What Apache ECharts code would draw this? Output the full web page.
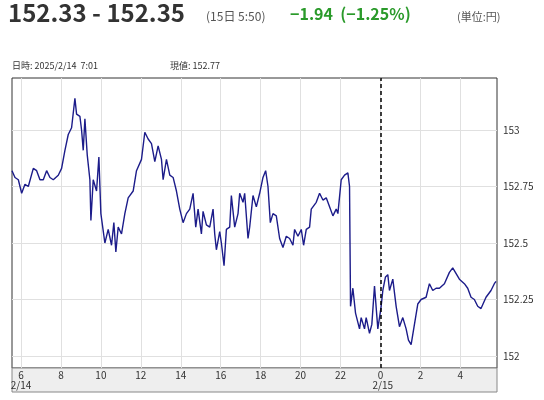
<!DOCTYPE html>
<html>
<head>
<meta charset="utf-8">
<script src="https://cdn.jsdelivr.net/npm/echarts@6/dist/echarts.min.js"></script>
<style>
body { margin: 0; background: #fff; }
#chart { width: 544px; height: 400px; }
</style>
</head>
<body>
<div id="chart"></div>
<script>
// minutes since 2025/2/14 00:00
var minutes = [
	333, 342, 352, 362, 372, 382, 397, 407, 417, 427, 437, 447, 457, 472, 482, 492,
	502, 512, 522, 527, 537, 542, 547, 552, 559, 567, 570, 577, 587, 594, 600, 612,
	622, 632, 639, 645, 652, 662, 672, 682, 697, 707, 722, 732, 742, 752, 762, 772,
	782, 787, 797, 807, 817, 827, 837, 847, 857, 867,
	877, 885, 892, 902, 907, 917, 927, 937, 942, 947, 957, 962, 970, 977, 987, 992,
	1002, 1012, 1017, 1027, 1032, 1042, 1047, 1057, 1067, 1077, 1087, 1095, 1102, 1109, 1117, 1127,
	1137, 1147, 1157, 1167, 1177, 1182, 1192, 1202, 1209, 1217, 1227, 1232, 1247, 1257, 1267, 1277,
	1287, 1297, 1307, 1312, 1322, 1332, 1342, 1347, 1350, 1357, 1365, 1377,
	1382, 1392, 1397, 1407, 1414, 1422, 1432, 1442, 1447, 1455, 1462, 1467, 1477, 1487, 1497, 1507,
	1517, 1524, 1532, 1542, 1552, 1562, 1577, 1587, 1597, 1607, 1617, 1632, 1647, 1657, 1677, 1692,
	1702, 1712, 1722, 1732, 1742, 1757, 1772, 1782, 1787
];
var prices = [
	152.82, 152.79, 152.78, 152.72, 152.76, 152.75, 152.83, 152.82, 152.78, 152.78, 152.82, 152.79, 152.78, 152.80, 152.83, 152.91,
	152.98, 153.01, 153.14, 153.07, 153.06, 153.00, 152.91, 153.05, 152.89, 152.78, 152.60, 152.78, 152.73, 152.88, 152.63, 152.50,
	152.56, 152.49, 152.59, 152.46, 152.57, 152.54, 152.63, 152.70, 152.73, 152.82, 152.87, 152.99, 152.96, 152.94, 152.86, 152.93,
	152.87, 152.78, 152.87, 152.80, 152.79, 152.73, 152.65, 152.59, 152.63, 152.65,
	152.72, 152.57, 152.65, 152.54, 152.64, 152.58, 152.57, 152.65, 152.54, 152.47, 152.55, 152.50, 152.40, 152.56, 152.57, 152.71,
	152.57, 152.63, 152.72, 152.68, 152.72, 152.52, 152.57, 152.71, 152.66, 152.72, 152.79, 152.82, 152.75, 152.59, 152.63, 152.62,
	152.52, 152.48, 152.53, 152.52, 152.49, 152.56, 152.53, 152.56, 152.49, 152.56, 152.57, 152.65, 152.68, 152.72, 152.69, 152.70,
	152.66, 152.62, 152.65, 152.63, 152.78, 152.80, 152.81, 152.75, 152.22, 152.30, 152.19, 152.12,
	152.17, 152.12, 152.17, 152.10, 152.14, 152.31, 152.12, 152.22, 152.29, 152.35, 152.36, 152.29, 152.34, 152.22, 152.13, 152.17,
	152.12, 152.07, 152.05, 152.14, 152.23, 152.25, 152.26, 152.32, 152.29, 152.30, 152.30, 152.32, 152.37, 152.39, 152.34, 152.32,
	152.30, 152.26, 152.25, 152.22, 152.21, 152.26, 152.29, 152.32, 152.33
];
var hourTicks = [360, 480, 600, 720, 840, 960, 1080, 1200, 1320, 1440, 1560, 1680];
var priceTicks = [152, 152.25, 152.5, 152.75, 153];

var seriesData = [];
for (var i = 0; i < minutes.length; i++) {
	seriesData.push([minutes[i], prices[i]]);
}

var chart = echarts.init(document.getElementById('chart'));
var font = '"Noto Sans CJK JP", "Noto Sans", sans-serif';

chart.setOption({
	animation : false,
	textStyle : { fontFamily : font },
	graphic : [ {
		type : 'rect', z : 0,
		shape : { x : 12, y : 368, width : 485, height : 24 },
		style : { fill : '#eeeeee', stroke : '#888', lineWidth : 1 }
	}, {
		type : 'text', left : 8, top : 1,
		style : { text : '152.33 - 152.35', font : 'bold 24px ' + font, fill : '#333' }
	}, {
		type : 'text', left : 206, top : 10,
		style : { text : '(15日 5:50)', font : '12px ' + font, fill : '#555' }
	}, {
		type : 'text', left : 290, top : 6,
		style : { text : '−1.94  (−1.25%)', font : 'bold 16px ' + font, fill : '#2a9a2a' }
	}, {
		type : 'text', left : 457, top : 11,
		style : { text : '(単位:円)', font : '11px ' + font, fill : '#555' }
	}, {
		type : 'text', left : 12, top : 61,
		style : { text : '日時: 2025/2/14  7:01', font : '9px ' + font, fill : '#333' }
	}, {
		type : 'text', left : 170, top : 61,
		style : { text : '現値: 152.77', font : '9px ' + font, fill : '#333' }
	} ],
	grid : {
		left : 12, right : 47, top : 78, bottom : 32,
		show : true, borderColor : '#333', borderWidth : 1
	},
	xAxis : {
		type : 'value', min : 333, max : 1790,
		axisLine : { show : false },
		axisTick : { show : false, customValues : hourTicks },
		splitLine : { show : true, lineStyle : { color : '#e0e0e0' } },
		axisLabel : {
			customValues : hourTicks, margin : 2, color : '#333', fontSize : 10,
			align : 'center', lineHeight : 10,
			formatter : function(v) {
				var h = (v / 60) % 24;
				if (v == 360) return h + '\n2/14';
				if (v == 1440) return h + '\n  2/15';
				return h + '\n';
			}
		}
	},
	yAxis : {
		type : 'value', position : 'right', min : 151.947, max : 153.23,
		axisLine : { show : false },
		axisTick : { show : false, customValues : priceTicks },
		splitLine : { show : true, lineStyle : { color : '#e0e0e0' } },
		axisLabel : { customValues : priceTicks, color : '#333', fontSize : 10, margin : 6 }
	},
	series : [ {
		type : 'line',
		data : seriesData,
		showSymbol : false,
		lineStyle : { color : '#1c1c8a', width : 1.4 },
		markLine : {
			silent : true, symbol : 'none', label : { show : false },
			lineStyle : { color : '#000', type : [4, 3], width : 1.5 },
			data : [ { xAxis : 1440 } ]
		}
	} ]
});
</script>
</body>
</html>
